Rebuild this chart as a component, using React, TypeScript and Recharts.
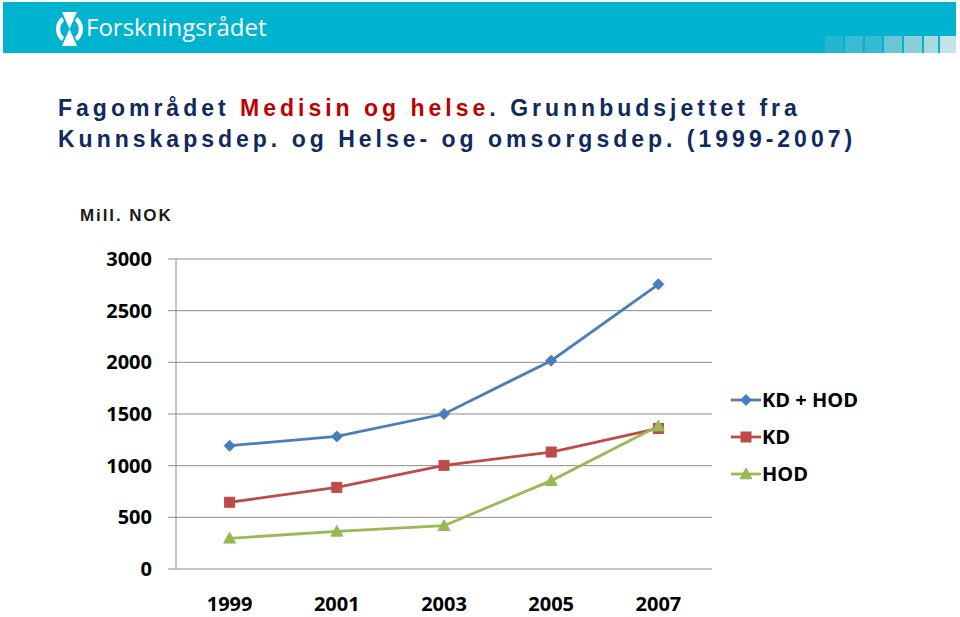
import React from 'react';
import { LineChart, Line, XAxis, YAxis, CartesianGrid, Legend } from 'recharts';

const years = ['1999', '2001', '2003', '2005', '2007'];
const kdHod = [1193, 1283, 1500, 2016, 2755];
const kd = [646, 790, 1003, 1132, 1360];
const hod = [297, 364, 419, 855, 1383];
const yTicks = [0, 500, 1000, 1500, 2000, 2500, 3000];
const boundaryTicks = [-0.5, 0.5, 1.5, 2.5, 3.5, 4.5];
const centerTicks = [0, 1, 2, 3, 4];
const seriesNames = ['KD + HOD', 'KD', 'HOD'];
const seriesColors = ['#4a7ebb', '#be4b48', '#98b954'];
const seriesShapes = ['diamond', 'square', 'triangle'];

const data = years.map((y, i) => ({ idx: i, year: y, kdHod: kdHod[i], kd: kd[i], hod: hod[i] }));

const FONT = '"Open Sans", "DejaVu Sans", sans-serif';

function Marker({ shape, cx, cy, color }: { shape: string; cx: number; cy: number; color: string }) {
  if (shape === 'diamond') {
    const s = 5.5;
    return <polygon points={`${cx},${cy - s} ${cx + s},${cy} ${cx},${cy + s} ${cx - s},${cy}`} fill={color} stroke={color} strokeWidth={1} />;
  }
  if (shape === 'square') {
    const s = 5;
    return <rect x={cx - s} y={cy - s} width={2 * s} height={2 * s} fill={color} stroke={color} strokeWidth={1} />;
  }
  const s = 6;
  return <polygon points={`${cx},${cy - s} ${cx + s},${cy + s * 0.8} ${cx - s},${cy + s * 0.8}`} fill={color} stroke={color} strokeWidth={1} />;
}

const makeDot = (shape: string, color: string) => (props: any) => {
  const { cx, cy, index } = props;
  if (cx == null || cy == null) return <g key={`d-${shape}-${index}`} />;
  return (
    <g key={`d-${shape}-${index}`}>
      <Marker shape={shape} cx={cx} cy={cy} color={color} />
    </g>
  );
};

const LegendContent = (props: any) => {
  const payload = [...(props.payload || [])].sort(
    (a: any, b: any) => seriesNames.indexOf(a.value) - seriesNames.indexOf(b.value)
  );
  return (
    <div style={{ display: 'flex', flexDirection: 'column' }}>
      {payload.map((p: any, i: number) => {
        const k = seriesNames.indexOf(p.value);
        const color = seriesColors[k >= 0 ? k : i];
        const shape = seriesShapes[k >= 0 ? k : i];
        return (
          <div key={p.value} style={{ display: 'flex', alignItems: 'center', height: 37 }}>
            <svg width={32} height={20} style={{ display: 'block' }}>
              <line x1={1} y1={10} x2={31} y2={10} stroke={color} strokeWidth={2.8} />
              <Marker shape={shape} cx={16} cy={10} color={color} />
            </svg>
            <span style={{ fontFamily: FONT, fontWeight: 700, fontSize: 20, color: '#000', lineHeight: '20px' }}>{p.value}</span>
          </div>
        );
      })}
    </div>
  );
};

function Logo() {
  return (
    <svg width={32} height={40} style={{ position: 'absolute', left: 53, top: 9 }} viewBox="0 0 32 40">
      <polygon points="9,3 24,3 16.5,20 24,37 9,37 16.5,20" fill="#fff" />
      <path d="M9,8 C1,13 1,27 9,32 L11,28 C6,24 6,16 11,12 Z" fill="#fff" />
      <path d="M24,8 C32,13 32,27 24,32 L22,28 C27,24 27,16 22,12 Z" fill="#fff" />
    </svg>
  );
}

const patternBlocks = [
  { x: 825, w: 18, c: '#22b6cf' },
  { x: 845, w: 18, c: '#3bbbd1' },
  { x: 865, w: 17, c: '#35bad1' },
  { x: 884, w: 18, c: '#6ac6d6' },
  { x: 904, w: 18, c: '#8ccfdb' },
  { x: 924, w: 14, c: '#a9d9e1' },
  { x: 940, w: 16, c: '#c4e2e7' },
];

export default function App() {
  return (
    <div style={{ position: 'absolute', left: 0, top: 0, width: 960, height: 617, overflow: 'hidden', background: '#fff' }}>
      <div style={{ position: 'absolute', left: 3, top: 2, width: 953, height: 51, background: '#00b4d0' }} />
      {patternBlocks.map((b) => (
        <div key={b.x} style={{ position: 'absolute', left: b.x, top: 36, width: b.w, height: 17, background: b.c }} />
      ))}
      <Logo />
      <div style={{ position: 'absolute', left: 86, top: 10, fontFamily: FONT, fontSize: 24, color: '#fff', lineHeight: '34px' }}>
        Forskningsrådet
      </div>
      <div
        style={{
          position: 'absolute',
          left: 58,
          top: 93,
          fontFamily: '"Liberation Sans", Arial, sans-serif',
          fontWeight: 700,
          fontSize: 23,
          lineHeight: '31px',
          letterSpacing: '4px',
          color: '#10295e',
          whiteSpace: 'nowrap',
        }}
      >
        <div>
          Fagområdet <span style={{ color: '#c00000' }}>Medisin og helse</span>. Grunnbudsjettet fra
        </div>
        <div>Kunnskapsdep. og Helse- og omsorgsdep. (1999-2007)</div>
      </div>
      <div
        style={{
          position: 'absolute',
          left: 80,
          top: 206,
          fontFamily: '"Liberation Sans", Arial, sans-serif',
          fontWeight: 700,
          fontSize: 17,
          lineHeight: '20px',
          letterSpacing: '1.9px',
          color: '#1a1a1a',
          whiteSpace: 'nowrap',
        }}
      >
        Mill. NOK
      </div>
      <div style={{ position: 'absolute', left: 0, top: 0 }}>
        <LineChart width={960} height={617} data={data} margin={{ top: 259, right: 248, bottom: 0, left: 116 }}>
          <CartesianGrid vertical={false} stroke="#8c8c8c" strokeWidth={1} />
          <XAxis
            xAxisId="ticks"
            type="number"
            dataKey="idx"
            domain={[-0.5, 4.5]}
            ticks={boundaryTicks}
            height={0}
            tick={false}
            tickSize={7}
            axisLine={{ stroke: '#8c8c8c' }}
            tickLine={{ stroke: '#8c8c8c' }}
          />
          <XAxis
            xAxisId="labels"
            type="number"
            dataKey="idx"
            domain={[-0.5, 4.5]}
            ticks={centerTicks}
            interval={0}
            height={48}
            axisLine={false}
            tickLine={false}
            tickSize={0}
            tickMargin={28}
            tickFormatter={(v: number) => years[v] ?? ''}
            tick={{ fontFamily: FONT, fontWeight: 700, fontSize: 20, fill: '#000' }}
          />
          <YAxis
            type="number"
            domain={[0, 3000]}
            ticks={yTicks}
            interval={0}
            width={60}
            tickSize={8}
            tickMargin={16}
            axisLine={{ stroke: '#8c8c8c' }}
            tickLine={{ stroke: '#8c8c8c' }}
            tick={{ fontFamily: FONT, fontWeight: 700, fontSize: 20, fill: '#000' }}
          />
          <Legend
            layout="vertical"
            align="center"
            verticalAlign="middle"
            content={LegendContent}
            wrapperStyle={{ position: 'absolute', left: 730, top: 381, width: 160 }}
          />
          <Line xAxisId="ticks" dataKey="kdHod" name={seriesNames[0]} stroke={seriesColors[0]} strokeWidth={2.8} dot={makeDot('diamond', seriesColors[0])} activeDot={false} isAnimationActive={false} />
          <Line xAxisId="ticks" dataKey="kd" name={seriesNames[1]} stroke={seriesColors[1]} strokeWidth={2.8} dot={makeDot('square', seriesColors[1])} activeDot={false} isAnimationActive={false} />
          <Line xAxisId="ticks" dataKey="hod" name={seriesNames[2]} stroke={seriesColors[2]} strokeWidth={2.8} dot={makeDot('triangle', seriesColors[2])} activeDot={false} isAnimationActive={false} />
        </LineChart>
      </div>
    </div>
  );
}
